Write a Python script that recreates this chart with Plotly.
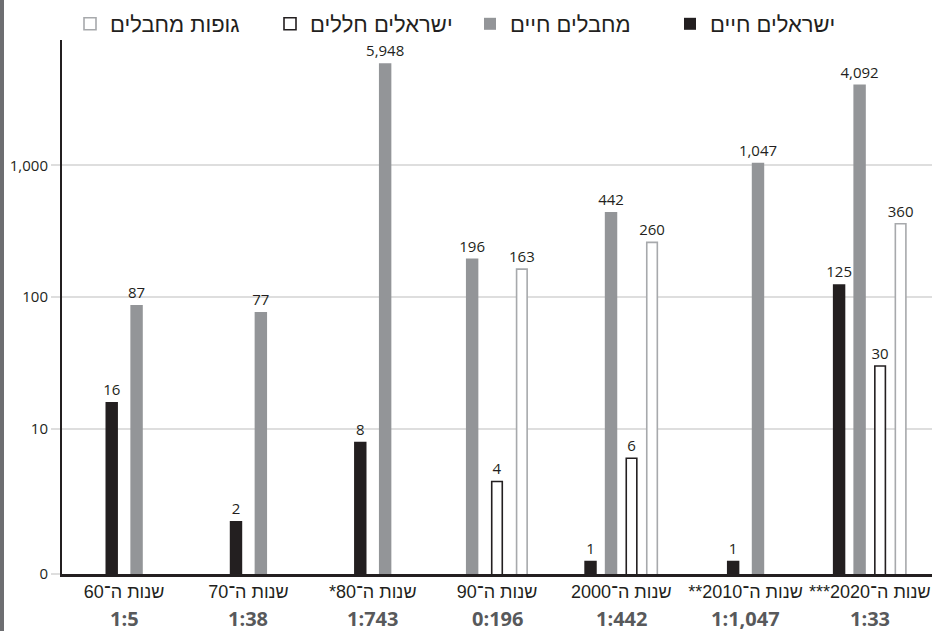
import plotly.graph_objects as go

# Decades on the category axis (Hebrew, right-to-left)
decades = ["שנות ה־60", "שנות ה־70", "שנות ה־80*", "שנות ה־90",
           "שנות ה־2000", "שנות ה־2010**", "שנות ה־2020***"]
ratios = ["1:5", "1:38", "1:743", "0:196", "1:442", "1:1,047", "1:33"]

# Series values per decade (None = no bar)
israelis_alive = [16, 2, 8, None, 1, 1, 125]
terrorists_alive = [87, 77, 5948, 196, 442, 1047, 4092]
israelis_dead = [None, None, None, 4, 6, None, 30]
terrorist_bodies = [None, None, None, 163, 260, None, 360]

series_names = ["ישראלים חיים", "מחבלים חיים", "ישראלים חללים", "גופות מחבלים"]

y_tick_vals = [10, 100, 1000]
y_tick_text = ["10", "100", "1,000"]

INK = "#231f20"
GREY = "#939598"
LIGHT = "#a7a9ac"
GRID = "#dedede"
HEB_FONT = "Liberation Sans, Arial, sans-serif"
NUM_FONT = "Open Sans, sans-serif"

W, H = 936, 631
ML, MR, MT, MB = 62, 4, 40, 57
Y_LOG_MIN, Y_LOG_MAX = -0.1, 3.95

RTL = lambda s: "\u202b" + s + "\u202c"

series = [israelis_alive, terrorists_alive, israelis_dead, terrorist_bodies]
styles = [
    dict(color=INK, line=dict(color=INK, width=0)),
    dict(color=GREY, line=dict(color=GREY, width=0)),
    dict(color="white", line=dict(color=INK, width=1.6)),
    dict(color="white", line=dict(color=LIGHT, width=1.6)),
]
widths = [0.1, 0.1, 0.085, 0.085]

# Bars inside each decade are packed and centred on whatever series exist
offsets = [[None] * len(decades) for _ in series]
for i in range(len(decades)):
    present = [k for k, s in enumerate(series) if s[i] is not None]
    n = len(present)
    step = min(0.2, 0.66 / n)
    for j, k in enumerate(present):
        offsets[k][i] = (j - (n - 1) / 2) * step - widths[k] / 2

fig = go.Figure()
for k, (name, vals) in enumerate(zip(series_names, series)):
    fig.add_trace(go.Bar(
        x=decades, y=vals, name=name,
        width=[widths[k]] * len(decades),
        offset=[o if o is not None else 0 for o in offsets[k]],
        marker=styles[k],
        texttemplate="%{y:,}", textposition="outside",
        outsidetextfont=dict(family=NUM_FONT, size=15, color=INK),
        constraintext="none", cliponaxis=False,
    ))

# Ratio row under the decade labels
for d, r in zip(decades, ratios):
    fig.add_annotation(x=d, xref="x", y=0, yref="paper", yshift=-44,
                       text="<b>%s</b>" % r, showarrow=False, yanchor="middle",
                       borderpad=0,
                       font=dict(family=NUM_FONT, size=20, color="#58595b"))

pw = W - ML - MR
ph = H - MT - MB
# Thin dark strip along the left edge
fig.add_shape(type="rect", xref="paper", yref="paper",
              x0=-ML / pw, x1=-(ML - 4) / pw, y0=-MB / ph, y1=1 + MT / ph,
              fillcolor="#6d6e71", line=dict(width=0), layer="above")

fig.update_layout(
    width=W, height=H,
    margin=dict(l=ML, r=MR, t=MT, b=MB, autoexpand=False),
    plot_bgcolor="white", paper_bgcolor="white",
    barmode="overlay",
    showlegend=True,
    legend=dict(orientation="h", traceorder="reversed",
                x=(70 - ML) / pw, xanchor="left", y=1 + (MT - 3) / ph, yanchor="top",
                font=dict(family=HEB_FONT, size=22, color=INK),
                entrywidth=155, entrywidthmode="pixels",
                itemclick=False, tracegroupgap=0),
    font=dict(family=NUM_FONT, color=INK),
)
fig.update_xaxes(
    type="category", range=[-0.5, len(decades) - 0.5],
    tickvals=decades, ticktext=[RTL(d) for d in decades],
    tickfont=dict(family=HEB_FONT, size=18, color=INK), tickangle=0,
    automargin=False,
    showgrid=False, showline=True, linecolor=INK, linewidth=2.5, ticks="",
)
fig.update_yaxes(
    type="log", range=[Y_LOG_MIN, Y_LOG_MAX], automargin=False,
    tickvals=[10 ** Y_LOG_MIN] + y_tick_vals, ticktext=["0"] + y_tick_text,
    tickfont=dict(family=NUM_FONT, size=15, color=INK),
    showgrid=True, gridcolor=GRID, gridwidth=1.5,
    ticks="outside", ticklen=9, tickcolor=GRID, tickwidth=1.5,
    showline=True, linecolor=INK, linewidth=2, zeroline=False,
)

fig.write_html("out.html")
